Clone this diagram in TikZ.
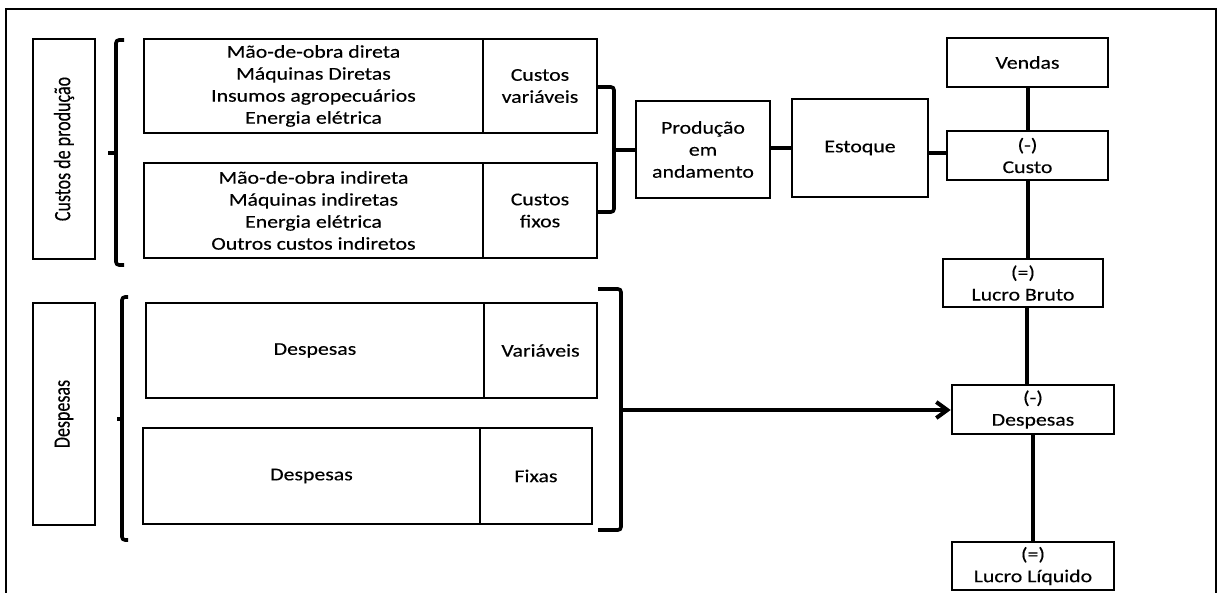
\documentclass[tikz,border=0pt]{standalone}
\usepackage{fontspec}
\setmainfont{Carlito}[FakeStretch=1.21,FakeBold=0.3]
\newfontfamily\plainfont{Carlito}[FakeBold=0.3]
\usetikzlibrary{arrows.meta}
\begin{document}
\begin{tikzpicture}[x=1pt,y=-1pt,
  box/.style={draw,line width=2.6pt,inner sep=0pt,align=center,font=\fontsize{18}{22}\selectfont},
  conn/.style={line width=4pt},
  brk/.style={line width=3.6pt,rounded corners=3pt},
  frame/.style={line width=2pt}]
\useasboundingbox (0,0) rectangle (1219,593);
\draw[frame] (6,593) -- (6,9) -- (1216,9) -- (1216,593);

% Custos de produção
\node[box,rotate=90,minimum width=220,minimum height=62] (cdp) at (64,149) {\scalebox{1}[1.3]{\plainfont Custos de produção}};
\node[box,minimum width=339,minimum height=94] (a1) at (313.5,86) {Mão-de-obra direta\\Máquinas Diretas\\Insumos agropecuários\\Energia elétrica};
\node[box,minimum width=114,minimum height=94] (a2) at (540,86) {Custos\\variáveis};
\node[box,minimum width=339,minimum height=95] (b1) at (313.5,210.5) {Mão-de-obra indireta\\Máquinas indiretas\\Energia elétrica\\Outros custos indiretos};
\node[box,minimum width=114,minimum height=95] (b2) at (540,210.5) {Custos\\fixos};

\node[box,minimum width=134,minimum height=97] (prod) at (703,149.5) {Produção\\em\\andamento};
\node[box,minimum width=136,minimum height=98] (est) at (860,148) {Estoque};
\node[box,minimum width=161,minimum height=49] (vendas) at (1027.5,62.5) {Vendas};
\node[box,minimum width=161,minimum height=49] (custo) at (1027.5,155.5) {(-)\\Custo};
\node[box,minimum width=160,minimum height=48] (lb) at (1023,283) {(=)\\Lucro Bruto};
\node[box,minimum width=162,minimum height=49] (desp) at (1033,409.5) {(-)\\Despesas};
\node[box,minimum width=162,minimum height=48] (ll) at (1033,566) {(=)\\Lucro Líquido};

% Despesas
\node[box,rotate=90,minimum width=222,minimum height=62] (dv) at (64,414) {\scalebox{1}[1.3]{\plainfont Despesas}};
\node[box,minimum width=338,minimum height=95] (c1) at (315,350.5) {Despesas};
\node[box,minimum width=113,minimum height=95] (c2) at (540.5,350.5) {Variáveis};
\node[box,minimum width=337,minimum height=96] (d1) at (311.5,476) {Despesas};
\node[box,minimum width=112,minimum height=96] (d2) at (536,476) {Fixas};

% braces
\draw[brk] (124,40) -- (116,40) -- (116,265) -- (124,265);
\draw[brk] (116,153) -- (108,153);
\draw[brk] (128,297) -- (122,297) -- (122,540) -- (128,540);
\draw[brk] (122,419) -- (117,419);

% right brackets
\draw[brk] (597,87) -- (614,87) -- (614,212) -- (597,212);
\coordinate (br1) at (614,150);
\draw[brk] (598,289) -- (621,289) -- (621,530) -- (598,530);
\coordinate (br2) at (621,410);

% connectors
\draw[conn] (br1) -- (br1 -| prod.west);
\draw[conn] (est.west -| prod.east) -- (est.west);
\draw[conn] ([yshift=-5pt]est.east) -- ([yshift=-5pt]est.east -| custo.west);
\draw[conn] (vendas.south) -- (custo.north);
\draw[conn] (custo.south) -- (custo.south |- lb.north);
\draw[conn] ([xshift=4pt]lb.south) -- ([xshift=4pt]lb.south |- desp.north);
\draw[conn] (desp.south) -- (ll.north);
\draw[conn,-{Straight Barb[length=11pt,width=16pt]}] (br2) -- (br2 -| desp.west);
\end{tikzpicture}
\end{document}
